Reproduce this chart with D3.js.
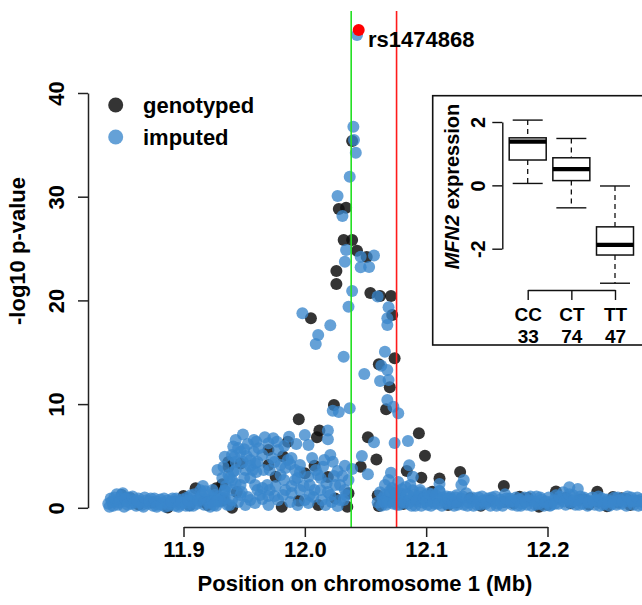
<!DOCTYPE html>
<html>
<head>
<meta charset="utf-8">
<script src="https://cdn.jsdelivr.net/npm/d3@7"></script>
<style>
body{margin:0;background:#fff;}
text{font-family:"Liberation Sans",Arial,sans-serif;font-weight:bold;fill:#000;}
</style>
</head>
<body>
<svg id="chart" width="642" height="605"></svg>
<script>
// association results: [position (Mb), -log10 p]
const genotyped=[
[12.039,35.37],[12.028,28.81],[12.034,28.94],[12.032,25.82],[12.039,25.82],[12.043,24.79],[12.051,24.18],[12.026,22.83],[12.026,21.58],[12.054,20.71],[12.062,20.42],[12.071,20.42],[12.072,18.59],[12.005,18.27],[12.074,14.42],[12.061,13.84],[12.070,11.62],[12.024,9.91],[12.067,9.5],[11.995,8.53],[12.052,6.8],[12.094,7.18],[12.099,5.02],[12.059,4.66],[12.046,3.96],[12.084,3.55],[12.096,2.9],[12.111,2.83],[12.128,3.45],[12.164,2.1],[12.060,1.19],[12.061,0.17],
[12.012,7.45],[12.010,6.8],[11.986,6.37],[11.970,5.57],[11.982,4.97],[11.970,4.13],[11.937,4.42],[11.937,3.93],[11.947,4.27],[11.976,3.0],[12.000,3.33],[12.008,4.06],[12.019,2.97],[11.932,2.27],[11.927,1.88],[11.944,1.52],[11.910,1.88],[12.036,1.4],[12.025,0.9],[12.035,0.11],[11.981,0.11],[11.995,0.68],[12.011,0.27],[11.916,0.59],[11.920,0.27],[11.933,0.75],[11.940,0.0],[11.849,1.23],[11.856,0.95],[11.863,0.32],[11.887,0.03],[11.900,1.14],[11.875,0.5],[11.893,0.6],[11.905,0.25],
[12.081,0.37],[12.091,0.75],[12.105,1.55],[12.118,0.27],[12.136,0.92],[12.153,0.75],[12.164,0.59],[12.177,1.07],[12.184,0.95],[12.193,0.11],[12.207,1.57],[12.209,0.92],[12.219,0.43],[12.234,0.32],[12.241,1.55],[12.242,0.59],[12.249,0.14],[12.261,0.92],[12.268,0.27],[12.274,0.66],[12.226,0.75],[12.254,1.04],
[12.125,0.5],[12.145,0.2],[12.172,0.45],[12.200,0.3],[12.215,0.95],[12.230,0.8],[12.258,0.5],[12.265,0.85],[12.278,0.6]
];

const imputedPeak=[
[12.043,45.6],[12.040,36.75],[12.0405,35.47],[12.042,34.24],[12.037,31.93],[12.027,30.07],[12.031,28.14],[12.034,24.86],[12.046,24.21],[12.057,24.33],[12.033,23.73],[12.046,23.19],[12.053,23.22],[12.039,20.91],[12.060,20.38],[12.036,19.39],[12.069,19.33],[12.068,18.27],[12.068,17.63],[11.998,18.76],[12.021,17.6],[12.011,16.66],[12.009,15.8],[12.032,14.57],[12.066,15.05],[12.063,13.7],[12.068,13.29],[12.049,12.9],[12.062,12.23],[12.069,12.32],[12.023,9.36],[12.028,9.24],[12.037,9.59],[12.068,10.4],[12.073,9.75],[12.077,9.11],[12.057,6.32],[12.074,6.25],[12.085,6.44],[12.047,5.0],[12.052,3.24],[12.086,4.1],[12.071,3.38],[12.089,3.0],[12.069,2.68],[12.111,2.3],[12.131,2.68],[12.129,2.2],[12.218,1.98],[12.225,1.81]
];

const imputedCluster=[
[11.949,7.07],[11.941,5.91],[11.950,5.64],[11.934,4.93],[11.942,4.93],[11.941,3.48],[11.933,3.96],[11.960,6.37],[11.967,6.8],[11.974,6.7],[11.977,6.37],[11.987,6.86],[11.958,5.41],[11.962,5.74],[11.970,6.22],[11.958,6.54],[11.986,4.61],[11.988,4.19],[11.959,4.29],[12.000,7.02],[12.003,6.06],[12.019,7.45],[12.019,6.61],[12.015,3.96],[12.023,4.45],[12.033,4.06],[12.039,3.74],[12.003,3.0],[12.011,3.16],[12.018,2.36],[12.029,2.2],[11.969,2.2],
[11.951,3.65],[11.955,2.87],[11.947,2.2],[11.961,1.72],[11.971,3.65],[11.980,3.16],[11.992,2.68],[11.996,1.72],[11.984,1.72],[11.975,1.14],[11.965,0.85],[11.953,1.04],[11.945,0.56],[11.938,2.87],[11.940,5.09],[11.945,5.77],[11.943,6.54],[11.926,1.23],[11.934,0.95],[11.988,0.56],[12.000,0.75],[12.008,1.72],[12.014,0.75],[12.021,1.23],[12.027,3.55],[11.996,4.13],[12.006,4.8],[12.021,5.09],[11.965,5.09],[11.973,4.8],[11.980,4.13],[11.949,4.42],[11.953,6.15],[11.957,3.65],[11.984,3.84],[11.992,3.65],[12.004,2.2],[12.013,2.87],[12.025,2.2],[12.033,1.72],[12.029,0.75],[12.036,2.68],[11.971,1.72],[11.959,2.2],[11.940,1.72],[11.940,0.75],[11.951,0.27],[11.959,0.46],[11.970,0.27],[11.978,0.75],[11.982,1.23],[11.989,1.43],[11.994,0.27],[12.003,0.46],[12.007,1.04],[12.017,0.27],[12.022,0.56],[12.027,0.17],[12.032,0.75],[11.947,1.23],[11.963,1.23],[11.934,1.72],[11.937,3.16],[11.955,4.61],[11.940,2.68],
[11.928,3.65],[11.932,2.87],[11.935,2.1],[11.928,0.75],[11.924,1.72],[11.943,4.42],[11.947,5.38],[11.952,5.0],[11.955,4.03],[11.960,3.45],[11.950,2.87],[11.943,2.3],[11.948,1.52],[11.955,0.75],[11.965,1.91],[11.970,1.14],[11.976,2.1],[11.983,2.68],[11.989,2.1],[11.994,2.87],[11.999,2.1],[11.996,3.45],[11.989,4.8],[11.978,5.57],[11.983,5.96],[11.993,6.15],[11.961,4.42],[11.966,3.65],[11.975,4.42],[12.009,3.65],[12.016,4.61],[12.024,3.07],[12.031,3.07],[12.013,1.72],[12.019,1.52],[12.004,1.23],[12.034,1.23],[11.938,0.27],[11.925,0.27],[11.943,3.65]
];

const imputedBaseLeft=[
[11.838,0.4],[11.840,0.9],[11.842,0.2],[11.844,0.6],[11.845,1.3],[11.846,0.3],[11.848,0.8],[11.849,1.2],[11.850,1.4],[11.851,0.1],[11.853,0.6],[11.855,1.0],[11.857,0.4],[11.859,0.7],[11.861,0.2],[11.863,0.9],[11.865,0.5],[11.867,0.1],[11.869,0.7],[11.871,0.4],[11.873,0.9],[11.875,0.2],[11.877,0.6],[11.879,0.3],[11.881,0.8],[11.883,0.5],[11.885,0.1],[11.887,0.7],[11.889,0.4],[11.891,0.9],[11.893,0.2],[11.895,0.6],[11.897,0.3],[11.899,0.8],[11.901,0.5],[11.903,1.0],[11.905,0.2],
[11.907,0.7],[11.909,1.3],[11.911,0.4],[11.913,0.9],[11.914,1.7],[11.916,2.1],[11.917,0.3],[11.919,0.8],[11.921,1.2],[11.923,0.5],[11.925,0.9],[11.927,0.2],[11.929,1.1],[11.931,0.6],[11.933,0.9],[11.934,1.6],[11.936,0.3],
[11.839,0.1],[11.841,0.6],[11.843,1.0],[11.847,0.5],[11.852,0.9],[11.854,0.3],[11.858,1.1],[11.860,0.5],[11.862,0.7],[11.866,0.3],[11.868,1.0],[11.872,0.6],[11.876,0.9],[11.878,0.1],[11.882,0.3],[11.884,0.9],[11.888,0.2],[11.890,0.6],[11.894,0.9],[11.896,0.1],[11.898,0.5],[11.902,0.2],[11.904,0.7],[11.906,1.2],[11.908,0.2],[11.912,0.7],[11.915,1.2],[11.918,1.6],[11.920,0.5],[11.922,0.1],[11.924,0.7],[11.928,0.6]
];

const imputedBaseRight=[
[12.060,0.5],[12.062,1.5],[12.064,0.9],[12.066,2.2],[12.067,0.3],[12.069,1.2],[12.071,0.6],[12.072,1.9],[12.074,1.0],[12.076,0.3],[12.077,2.5],[12.079,1.4],[12.081,0.8],[12.083,2.0],[12.085,0.4],[12.087,1.1],[12.089,1.7],[12.091,0.2],[12.093,0.9],[12.095,1.5],[12.097,0.5],[12.099,1.2],[12.101,0.3],[12.103,0.8],[12.105,1.3],[12.107,0.4],[12.109,0.9],[12.111,1.6],[12.113,0.2],[12.115,0.7],[12.117,1.1],[12.119,0.4],[12.121,0.8],[12.123,0.2],[12.125,1.2],[12.127,0.6],[12.129,0.9],[12.131,0.3],[12.133,1.4],[12.135,0.5],[12.137,0.8],[12.139,0.2],[12.141,0.6],[12.143,1.0],[12.145,0.3],[12.147,0.7],[12.149,0.4],[12.151,0.9],[12.153,0.2],[12.155,0.6],[12.157,1.1],[12.159,0.4],[12.161,0.8],[12.163,0.2],[12.165,1.3],[12.167,0.5],[12.169,0.9],[12.171,0.3],[12.173,0.7],[12.175,0.2],[12.177,0.8],[12.179,0.4],[12.181,1.0],[12.183,0.3],[12.185,0.7],[12.187,0.2],[12.189,0.6],[12.191,1.1],[12.193,0.4],[12.195,0.8],[12.197,0.2],[12.199,0.6],[12.201,1.0],[12.203,0.3],[12.205,0.7],[12.207,1.2],[12.209,0.4],[12.211,0.8],[12.213,1.5],[12.215,0.3],[12.217,0.9],[12.219,0.5],[12.221,1.2],[12.223,0.3],[12.225,0.7],[12.227,1.1],[12.229,0.4],[12.231,0.8],[12.233,0.2],[12.235,0.6],[12.237,1.0],[12.239,0.3],[12.241,0.7],[12.243,0.2],[12.245,0.9],[12.247,0.5],[12.249,0.8],[12.251,0.2],[12.253,0.6],[12.255,1.0],[12.257,0.3],[12.259,0.7],[12.261,0.4],[12.263,0.9],[12.265,0.2],[12.267,0.6],[12.269,1.0],[12.271,0.3],[12.273,0.7],[12.275,0.2],[12.277,0.8],[12.279,0.5],
[12.066,1.23],[12.074,1.72],[12.078,1.04],[12.087,2.2],[12.095,1.72],[12.103,1.14],[12.111,1.62],[12.120,1.04],
[12.063,0.2],[12.065,0.6],[12.068,0.5],[12.070,1.6],[12.073,0.4],[12.075,1.4],[12.078,0.3],[12.080,1.8],[12.082,0.5],[12.084,1.3],[12.086,0.7],[12.088,0.2],[12.090,1.2],[12.092,0.6],[12.094,1.1],[12.096,0.2],[12.098,0.9],[12.100,0.6],[12.102,1.4],[12.104,0.2],[12.106,0.6],[12.108,1.2],[12.110,0.4],[12.114,1.0],[12.116,0.4],[12.118,0.9],[12.122,0.5],[12.124,1.0],[12.126,0.3],[12.130,1.1],[12.134,0.2],[12.138,1.0],[12.142,0.3],[12.146,1.1],[12.150,0.6],[12.154,1.0],[12.158,0.2],[12.162,0.5],[12.166,0.9],[12.170,0.6],[12.174,1.0],[12.178,0.2],[12.182,0.6],[12.186,1.1],[12.190,0.3],[12.194,1.0],[12.198,0.5],[12.202,0.2],[12.206,0.4],[12.210,1.1],[12.214,0.6],[12.218,1.3],[12.222,0.7],[12.226,0.3],[12.230,1.0],[12.234,0.5],[12.238,0.7],[12.242,1.1],[12.246,0.3],[12.250,0.6],[12.254,0.4],[12.258,1.0],[12.262,0.6],[12.266,1.1],[12.270,0.6],[12.274,1.0],[12.278,0.3]
];

const topSnp={name:'rs1474868',pos:12.0444,logp:46.07};
const geneStart=12.0382, geneEnd=12.0756;   // green / red lines
const xTicks=[11.9,12.0,12.1,12.2];
const yTicks=[0,10,20,30,40];

// inset boxplot: MFN2 expression by genotype
const genotypes=['CC','CT','TT'];
const counts=[33,74,47];
const whiskerLow=[0.06,-0.71,-3.09];
const q1=[0.80,0.15,-2.20];
const median=[1.38,0.51,-1.88];
const q3=[1.50,0.87,-1.31];
const whiskerHigh=[2.06,1.48,-0.02];
const exprTicks=[-2,0,2];

const svg=d3.select('#chart');
const font='Liberation Sans, Arial, sans-serif';

const x=d3.scaleLinear().domain([11.9,12.2]).range([183.5,547.5]);
const y=d3.scaleLinear().domain([0,40]).range([507.8,93]);

const imputed=imputedBaseLeft.concat(imputedCluster,imputedBaseRight,imputedPeak);
const R=6;

// points
svg.append('g').selectAll('circle')
    .data(genotyped)
    .enter().append('circle')
    .attr('cx',d=>x(d[0]))
    .attr('cy',d=>y(d[1]))
    .attr('r',R)
    .attr('fill','#111')
    .attr('fill-opacity',0.85);

svg.append('g').selectAll('circle')
    .data(imputed)
    .enter().append('circle')
    .attr('cx',d=>x(d[0]))
    .attr('cy',d=>y(d[1]))
    .attr('r',R)
    .attr('fill','#3a86cc')
    .attr('fill-opacity',0.78);

// gene boundaries
[[geneStart,'#22e022'],[geneEnd,'#ff1a1a']].forEach(l=>{
    svg.append('line')
        .attr('x1',x(l[0])).attr('x2',x(l[0]))
        .attr('y1',11).attr('y2',527)
        .attr('stroke',l[1]).attr('stroke-width',1.6);
});

// top snp
svg.append('circle')
    .attr('cx',x(topSnp.pos)).attr('cy',y(topSnp.logp))
    .attr('r',R).attr('fill','#ff0000');
svg.append('text')
    .attr('x',368).attr('y',47)
    .attr('font-size','22px')
    .text(topSnp.name);

// x axis
const xAxis=svg.append('g')
    .attr('transform','translate(0,527)')
    .call(d3.axisBottom(x).tickValues(xTicks).tickFormat(d3.format('.1f')).tickSize(10).tickSizeOuter(0).tickPadding(4));
xAxis.selectAll('text').attr('font-size','22px').attr('font-family',font).attr('font-weight','bold');

// y axis
const yAxis=svg.append('g')
    .attr('transform','translate(88,0)')
    .call(d3.axisLeft(y).tickValues(yTicks).tickSize(10).tickSizeOuter(0));
yAxis.selectAll('text')
    .attr('font-size','22px').attr('font-family',font).attr('font-weight','bold')
    .attr('transform','rotate(-90)')
    .attr('x',0).attr('y',-24).attr('dy',0)
    .attr('text-anchor','middle');

svg.selectAll('.domain, .tick line').attr('stroke','#222').attr('stroke-width',1.5);

// axis titles
svg.append('text')
    .attr('x',365).attr('y',591)
    .attr('text-anchor','middle')
    .attr('font-size','22px')
    .text('Position on chromosome 1 (Mb)');

svg.append('text')
    .attr('transform','translate(24.5,251) rotate(-90)')
    .attr('text-anchor','middle')
    .attr('font-size','22px')
    .text('-log10 p-value');

// legend
const legend=[['genotyped','#111',0.85],['imputed','#3a86cc',0.78]];
legend.forEach((d,i)=>{
    svg.append('circle')
        .attr('cx',115.7).attr('cy',105+i*32)
        .attr('r',7.5).attr('fill',d[1]).attr('fill-opacity',d[2]);
    svg.append('text')
        .attr('x',143).attr('y',105+i*32).attr('dy','0.35em')
        .attr('font-size','22px')
        .text(d[0]);
});

// ---- inset ----
const inset=svg.append('g');
inset.append('rect')
    .attr('x',432.7).attr('y',95.7)
    .attr('width',240).attr('height',249.3)
    .attr('fill','#fff').attr('stroke','#111').attr('stroke-width',1.6);

const yIn=d3.scaleLinear().domain([-2,2]).range([248.7,122]);
const xIn=d3.scalePoint().domain(genotypes).range([527.7,615]);
const boxW=37, capW=30;

genotypes.forEach((g,i)=>{
    const cx=xIn(g);
    const bg=inset.append('g');
    // whiskers
    bg.append('line').attr('x1',cx).attr('x2',cx).attr('y1',yIn(whiskerHigh[i])).attr('y2',yIn(q3[i]))
        .attr('stroke','#111').attr('stroke-width',1.3).attr('stroke-dasharray','5,4');
    bg.append('line').attr('x1',cx).attr('x2',cx).attr('y1',yIn(q1[i])).attr('y2',yIn(whiskerLow[i]))
        .attr('stroke','#111').attr('stroke-width',1.3).attr('stroke-dasharray','5,4');
    [whiskerHigh[i],whiskerLow[i]].forEach(v=>{
        bg.append('line').attr('x1',cx-capW/2).attr('x2',cx+capW/2).attr('y1',yIn(v)).attr('y2',yIn(v))
            .attr('stroke','#111').attr('stroke-width',1.4);
    });
    bg.append('rect')
        .attr('x',cx-boxW/2).attr('y',yIn(q3[i]))
        .attr('width',boxW).attr('height',yIn(q1[i])-yIn(q3[i]))
        .attr('fill','#fff').attr('stroke','#111').attr('stroke-width',1.5);
    bg.append('line').attr('x1',cx-boxW/2).attr('x2',cx+boxW/2).attr('y1',yIn(median[i])).attr('y2',yIn(median[i]))
        .attr('stroke','#000').attr('stroke-width',4.2);
});

const yInAxis=inset.append('g')
    .attr('transform','translate(502.3,0)')
    .call(d3.axisLeft(yIn).tickValues(exprTicks).tickFormat(d=>String(d)).tickSize(10).tickSizeOuter(0));
yInAxis.selectAll('text')
    .attr('font-size','20px').attr('font-family',font).attr('font-weight','bold')
    .attr('transform','rotate(-90)')
    .attr('x',0).attr('y',-17).attr('dy',0)
    .attr('text-anchor','middle');

const xInAxis=inset.append('g')
    .attr('transform','translate(0,290)')
    .call(d3.axisBottom(xIn).tickSize(10).tickSizeOuter(0));
xInAxis.selectAll('.tick text').remove();
// genotype and sample size as two separate lines
xInAxis.selectAll('.tick').append('text')
    .attr('y',31).attr('fill','#000')
    .attr('font-size','19px').attr('font-family',font).attr('font-weight','bold')
    .attr('text-anchor','middle')
    .text(d=>d);
xInAxis.selectAll('.tick').append('text')
    .attr('y',52.5).attr('fill','#000')
    .attr('font-size','19px').attr('font-family',font).attr('font-weight','bold')
    .attr('text-anchor','middle')
    .text((d,i)=>counts[i]);

inset.selectAll('.domain, .tick line').attr('stroke','#111').attr('stroke-width',1.4);

const title=inset.append('text')
    .attr('transform','translate(459,186.5) rotate(-90)')
    .attr('text-anchor','middle')
    .attr('font-size','20px');
title.append('tspan').attr('font-style','italic').text('MFN2');
title.append('tspan').text(' expression');
</script>
</body>
</html>
